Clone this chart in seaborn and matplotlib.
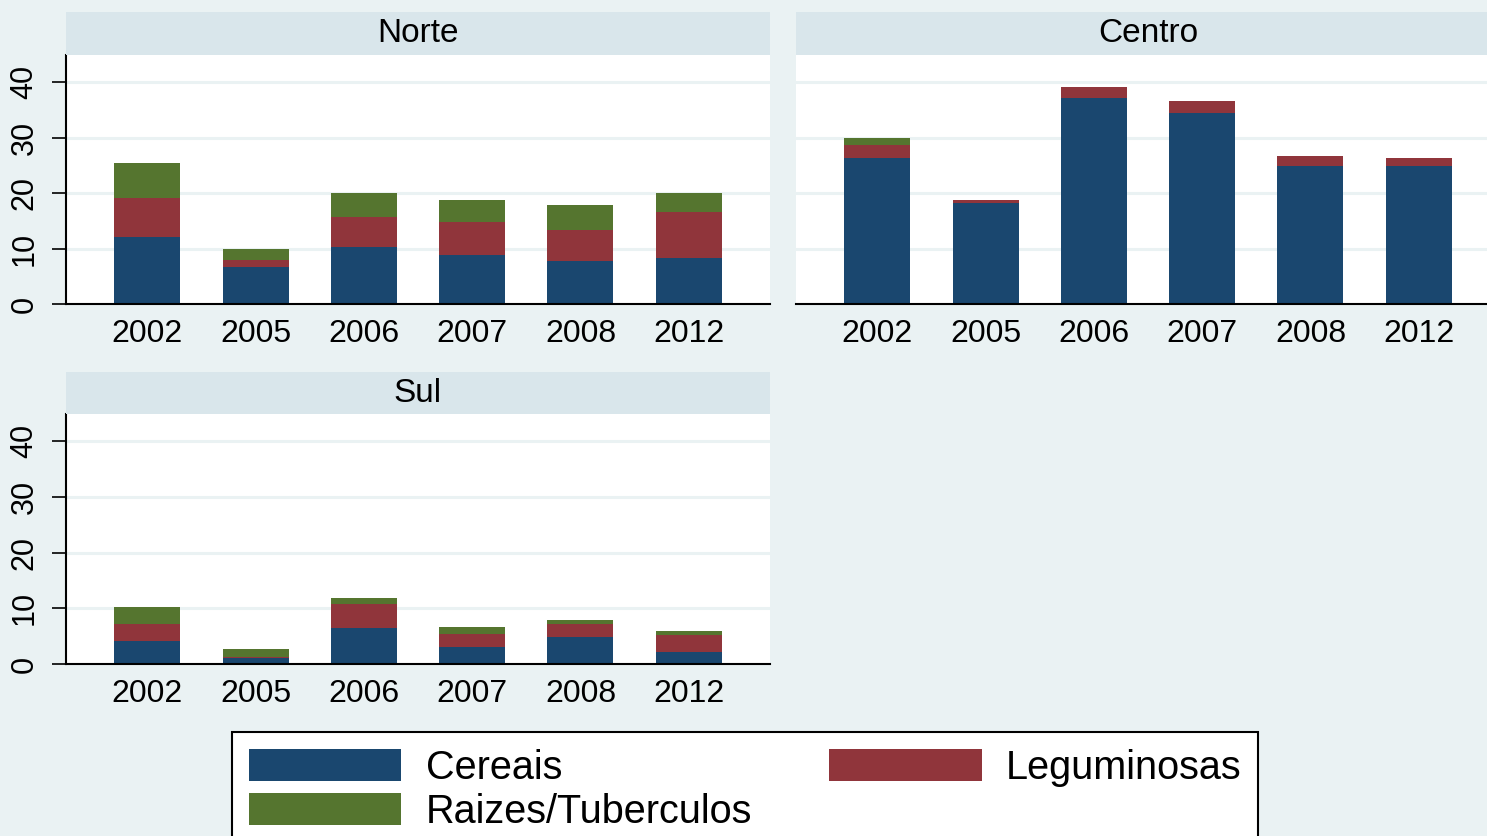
import numpy as np
import pandas as pd
import seaborn as sns
import matplotlib.pyplot as plt
from matplotlib.patches import Rectangle, Patch

anos = ["2002", "2005", "2006", "2007", "2008", "2012"]
regioes = ["Norte", "Centro", "Sul"]
categorias = ["Cereais", "Leguminosas", "Raizes/Tuberculos"]
cores = ["#1A476F", "#90353B", "#55752F"]

norte_cereais = [12.0, 6.7, 10.3, 8.9, 7.7, 8.3]
norte_leguminosas = [7.1, 1.3, 5.4, 5.9, 5.7, 8.3]
norte_raizes = [6.3, 2.0, 4.4, 4.0, 4.4, 3.5]

centro_cereais = [26.4, 18.3, 37.2, 34.5, 24.9, 24.9]
centro_leguminosas = [2.3, 0.5, 2.0, 2.1, 1.8, 1.5]
centro_raizes = [1.3, 0.0, 0.0, 0.0, 0.0, 0.0]

sul_cereais = [4.1, 1.1, 6.5, 3.1, 4.9, 2.2]
sul_leguminosas = [3.0, 0.1, 4.2, 2.3, 2.2, 3.0]
sul_raizes = [3.05, 1.5, 1.2, 1.3, 0.8, 0.7]

valores = {
    "Norte": [norte_cereais, norte_leguminosas, norte_raizes],
    "Centro": [centro_cereais, centro_leguminosas, centro_raizes],
    "Sul": [sul_cereais, sul_leguminosas, sul_raizes],
}

# long table with cumulative tops for stacking
rows = []
for reg in regioes:
    acum = np.zeros(len(anos))
    for cat, serie in zip(categorias, valores[reg]):
        acum = acum + np.array(serie)
        for ano, v, top in zip(anos, serie, acum):
            rows.append({"regiao": reg, "ano": ano, "categoria": cat, "valor": v, "topo": top})
df = pd.DataFrame(rows)

sns.set_theme(style="white")
plt.rcParams["font.family"] = ["Liberation Sans", "DejaVu Sans"]
plt.rcParams["text.color"] = "black"
plt.rcParams["xtick.color"] = "black"
plt.rcParams["ytick.color"] = "black"

BG = "#EAF2F3"
STRIP = "#D9E6EB"
W, H = 1487, 836

fig = plt.figure(figsize=(W / 100, H / 100), dpi=100)
fig.patch.set_facecolor(BG)

# panel boxes in pixels: (left, top of strip, plot top, plot bottom)
paineis = {
    "Norte": (66, 12, 55, 304),
    "Centro": (796, 12, 55, 304),
    "Sul": (66, 372, 414, 664),
}
largura = 704

for reg in regioes:
    x0, st, pt, pb = paineis[reg]
    ax = fig.add_axes([x0 / W, 1 - pb / H, largura / W, (pb - pt) / H])
    ax.set_facecolor("white")
    sub = df[df["regiao"] == reg]

    for cat, cor in reversed(list(zip(categorias, cores))):
        d = sub[sub["categoria"] == cat]
        sns.barplot(data=d, x="ano", y="topo", order=anos, color=cor, saturation=1,
                    width=0.61, errorbar=None, linewidth=0, ax=ax, zorder=3)

    ax.set_xlim(-0.75, 5.75)
    ax.set_ylim(0, 44.9)
    ax.set_yticks([0, 10, 20, 30, 40])
    for yv in [10, 20, 30, 40]:
        ax.axhline(yv, color=BG, lw=2.2, zorder=1)
    ax.grid(False)
    ax.set_xlabel("")
    ax.set_ylabel("")
    for s in ["top", "right"]:
        ax.spines[s].set_visible(False)
    ax.spines["bottom"].set_color("black")
    ax.spines["bottom"].set_linewidth(1.5)
    ax.spines["bottom"].set_zorder(5)
    ax.tick_params(axis="x", length=0, pad=11, labelsize=23, labelcolor="black")
    if reg == "Centro":
        ax.spines["left"].set_visible(False)
        ax.tick_params(axis="y", left=False, labelleft=False)
    else:
        ax.spines["left"].set_color("black")
        ax.spines["left"].set_linewidth(1.5)
        ax.tick_params(axis="y", left=True, length=10, width=1.2, color="black",
                       pad=9, labelsize=22, labelcolor="black")
        for lab in ax.get_yticklabels():
            lab.set_rotation(90)
            lab.set_va("center")

    # title strip
    fig.patches.append(Rectangle((x0 / W, 1 - pt / H), largura / W, (pt - st) / H,
                                 transform=fig.transFigure, facecolor=STRIP,
                                 edgecolor="none", zorder=0))
    fig.text((x0 + largura / 2) / W, 1 - (st + pt) / 2 / H, reg, ha="center",
             va="center", fontsize=24, color="black")

handles = [Patch(facecolor=c, edgecolor="none") for c in cores]
leg = fig.legend([handles[0], handles[2], handles[1]],
                 [categorias[0], categorias[2], categorias[1]],
                 ncol=2, loc="upper left", bbox_to_anchor=(232 / W, 1 - 732 / H),
                 fontsize=28.5, frameon=True, fancybox=False, facecolor="white",
                 edgecolor="black", framealpha=1, handlelength=3.85,
                 handleheight=0.85, handletextpad=0.62, columnspacing=1.95,
                 labelspacing=0.15, borderpad=0.42, borderaxespad=0)
leg.get_frame().set_linewidth(1.5)
for t in leg.get_texts():
    t.set_color("black")

fig.savefig("out.png", dpi=100, facecolor=BG)
